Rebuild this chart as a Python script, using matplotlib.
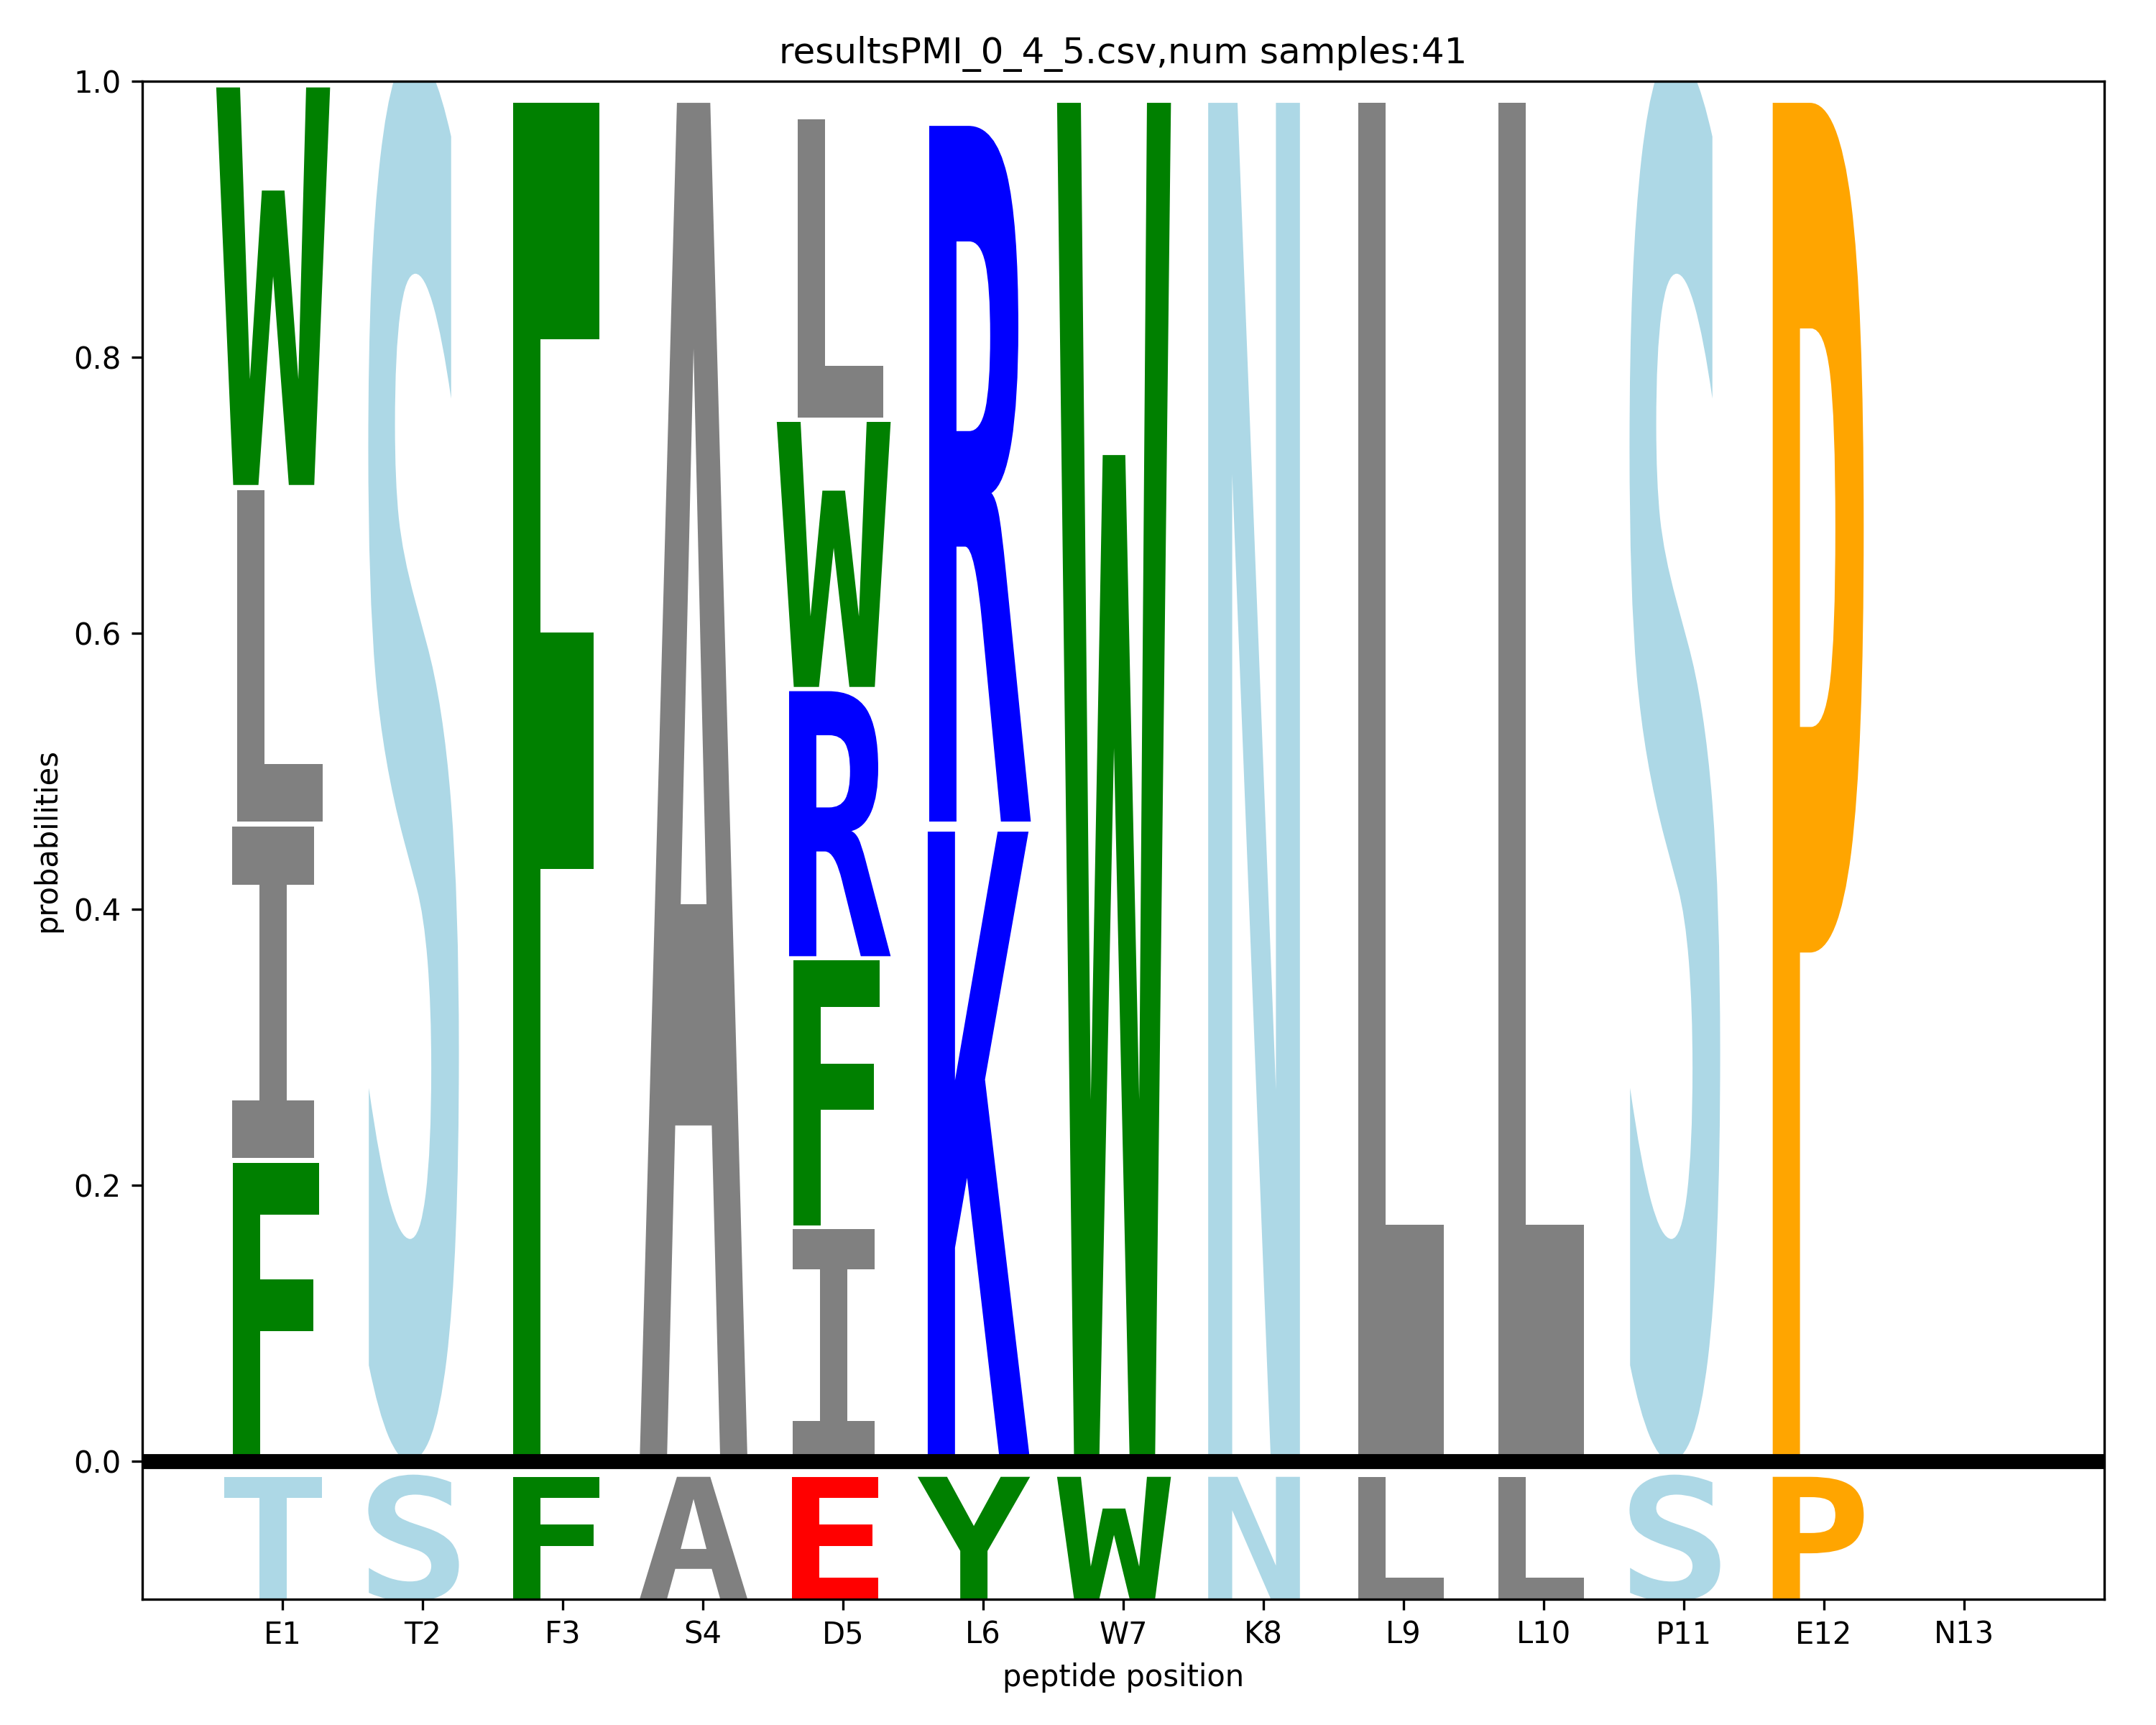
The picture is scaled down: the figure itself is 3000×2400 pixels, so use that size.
import matplotlib
matplotlib.use("Agg")
import matplotlib.pyplot as plt
from matplotlib.font_manager import FontProperties
from matplotlib.textpath import TextPath
from matplotlib.patches import PathPatch
from matplotlib import transforms

num_samples = 41
positions = ["E1", "T2", "F3", "S4", "D5", "L6", "W7",
             "K8", "L9", "L10", "P11", "E12", "N13"]

# letters in each column, stacked bottom -> top, with their counts
col_letters = [
    ["F", "I", "L", "W"],
    ["S"],
    ["F"],
    ["A"],
    ["I", "F", "R", "W", "L"],
    ["K", "R"],
    ["W"],
    ["N"],
    ["L"],
    ["L"],
    ["S"],
    ["P"],
    [],
]
col_counts = [
    [9, 10, 10, 12],
    [41],
    [41],
    [41],
    [7, 8, 8, 8, 9],
    [19, 21],
    [41],
    [41],
    [41],
    [41],
    [41],
    [41],
    [],
]

# sequence shown under the zero line
ref_seq = ["T", "S", "F", "A", "E", "Y", "W", "N", "L", "L", "S", "P"]

COLORS = {
    "F": "green", "W": "green", "Y": "green",
    "I": "gray", "L": "gray", "A": "gray", "V": "gray", "M": "gray",
    "S": "lightblue", "T": "lightblue", "N": "lightblue", "Q": "lightblue",
    "R": "blue", "K": "blue", "H": "blue",
    "E": "red", "D": "red",
    "P": "orange", "G": "orange",
}

fp = FontProperties(family="DejaVu Sans Mono", weight="bold")
globscale = 1.35


def letter_at(letter, x, y, yscale, ax, lift=True):
    path = TextPath((-0.35, 0), letter, size=1, prop=fp)
    # round letters (S) dip below the baseline; sit them on y instead
    ymin = min(path.vertices[:, 1].min(), 0) if lift else 0
    t = transforms.Affine2D().translate(0, -ymin) + \
        transforms.Affine2D().scale(globscale, yscale * globscale) + \
        transforms.Affine2D().translate(x, y) + ax.transData
    p = PathPatch(path, lw=0, fc=COLORS[letter], transform=t)
    ax.add_patch(p)
    return p


fig, ax = plt.subplots(figsize=(10, 8), dpi=300)
fig.subplots_adjust(left=0.066, right=0.976, bottom=0.073, top=0.953)

for i, (letters, counts) in enumerate(zip(col_letters, col_counts)):
    x = i + 1
    y = 0.0
    for let, c in zip(letters, counts):
        p = c / num_samples
        letter_at(let, x, y, p, ax)
        y += p

for i, let in enumerate(ref_seq):
    letter_at(let, i + 1, -0.1, 0.09, ax, lift=False)

ax.axhline(0, color="black", linewidth=5)

ax.set_xlim(0, len(positions) + 1)
ax.set_ylim(-0.1, 1.0)
ax.set_xticks(range(1, len(positions) + 1))
ax.set_xticklabels(positions)
ax.set_xlabel("peptide position")
ax.set_ylabel("probabilities")
ax.set_title("resultsPMI_0_4_5.csv,num samples:%d" % num_samples)

fig.savefig("out.png", dpi=300)
